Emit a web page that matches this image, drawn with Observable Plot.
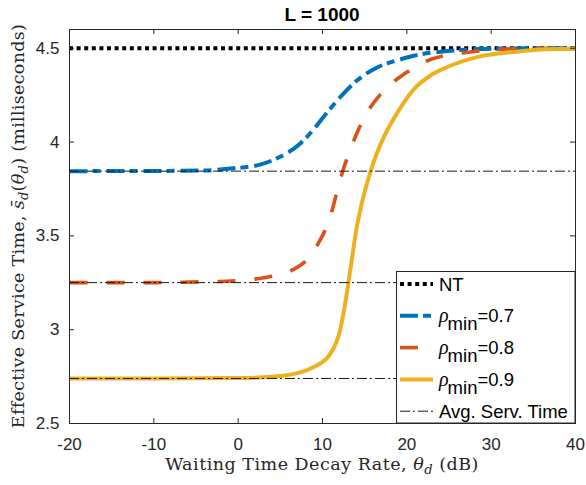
<!DOCTYPE html>
<html>
<head>
<meta charset="utf-8">
<script src="https://cdn.jsdelivr.net/npm/d3@7"></script>
<script src="https://cdn.jsdelivr.net/npm/@observablehq/plot@0.6"></script>
<style>
  html, body { margin: 0; padding: 0; background: #fff; }
</style>
</head>
<body>
<div id="chart"></div>
<script>
// ---------- data ----------
const titleText = "L = 1000";
const xTicks = [-20, -10, 0, 10, 20, 30, 40];
const yTicks = [2.5, 3, 3.5, 4, 4.5];
const xDomain = [-20, 40];
const yDomain = [2.5, 4.6];

const ntValue = 4.5;                       // NT
const avgServTime = [3.845, 3.251, 2.74];  // Avg. Serv. Time
const rhoMin = [0.7, 0.8, 0.9];

const theta07 = [-20, -10, -4.5, -0.6, 2.6, 4.9, 7.3, 8.9, 10.5, 12.1, 14.0, 16.6, 19.2, 20.8, 24.8, 29.9, 35, 40];
const s07     = [3.845, 3.846, 3.848, 3.86, 3.88, 3.92, 3.99, 4.065, 4.155, 4.24, 4.325, 4.40, 4.44, 4.46, 4.485, 4.497, 4.5, 4.5];

const theta08 = [-20, -10, -4.5, 0, 3.4, 6.5, 8.1, 9.5, 10.3, 11.1, 11.8, 12.5, 13.3, 14.1, 15.2, 16.8, 18.4, 19.6, 22.8, 27.5, 32.6, 40];
const s08     = [3.251, 3.251, 3.255, 3.262, 3.28, 3.32, 3.37, 3.46, 3.53, 3.63, 3.75, 3.86, 3.96, 4.05, 4.15, 4.25, 4.32, 4.36, 4.44, 4.48, 4.497, 4.5];

const theta09 = [-20, -10, 0, 5.3, 8.9, 10.9, 12.1, 12.8, 13.4, 14.0, 14.8, 15.6, 16.4, 17.2, 18.0, 19.0, 20.8, 22.8, 24.8, 28.7, 32.6, 36.6, 40];
const s09     = [2.74, 2.74, 2.742, 2.755, 2.80, 2.87, 3.0, 3.17, 3.35, 3.53, 3.70, 3.83, 3.935, 4.02, 4.09, 4.165, 4.28, 4.355, 4.40, 4.457, 4.48, 4.495, 4.497];

// ---------- styles ----------
const W = 586, H = 485;
const mL = 69, mR = 11, mT = 29, mB = 62;
const plotW = W - mL - mR, plotH = H - mT - mB;
const axisColor = "#262626";
const sansFont = "'Liberation Sans', Arial, Helvetica, sans-serif";
const serifFont = "'DejaVu Serif', serif";

const series = [
  {rho: rhoMin[0], theta: theta07, s: s07, color: "#0072BD", dash: "18,5,8,6", width: 4},
  {rho: rhoMin[1], theta: theta08, s: s08, color: "#D95319", dash: "18,19", width: 3.6},
  {rho: rhoMin[2], theta: theta09, s: s09, color: "#EDB120", dash: null, width: 4}
];
const ntStyle = {color: "black", dash: "4,3.6", width: 4};
const avgStyle = {color: "#1a1a1a", dash: "10,3,2,3", width: 1};

const lineMarks = series.map(sr => {
  const rows = sr.theta.map((t, i) => ({theta: t, s: sr.s[i]}));
  return Plot.line(rows, {
    x: "theta", y: "s", stroke: sr.color, strokeWidth: sr.width,
    strokeDasharray: sr.dash, strokeLinecap: "butt", curve: "monotone-x"
  });
});

const chart = Plot.plot({
  width: W, height: H,
  marginLeft: mL, marginRight: mR, marginTop: mT, marginBottom: mB,
  style: {fontFamily: sansFont, fontSize: "17px", color: axisColor, background: "white", overflow: "visible"},
  x: {domain: xDomain, label: null},
  y: {domain: yDomain, label: null},
  marks: [
    Plot.ruleY([ntValue], {stroke: ntStyle.color, strokeWidth: ntStyle.width, strokeDasharray: ntStyle.dash}),
    ...lineMarks,
    Plot.ruleY(avgServTime, {stroke: avgStyle.color, strokeWidth: avgStyle.width, strokeDasharray: avgStyle.dash}),
    // inward ticks on all four sides
    Plot.ruleX(xTicks, {stroke: axisColor, insetTop: plotH - 5}),
    Plot.ruleX(xTicks, {stroke: axisColor, insetBottom: plotH - 5}),
    Plot.ruleY(yTicks, {stroke: axisColor, insetRight: plotW - 5}),
    Plot.ruleY(yTicks, {stroke: axisColor, insetLeft: plotW - 5}),
    Plot.frame({stroke: axisColor, strokeWidth: 1}),
    Plot.axisX({ticks: xTicks, tickSize: 0, tickPadding: 14, tickFormat: d => String(d), label: null, fill: axisColor}),
    Plot.axisY({ticks: yTicks, tickSize: 0, tickPadding: 10, tickFormat: d => String(d), label: null, fill: axisColor})
  ]
});
document.getElementById("chart").appendChild(chart);

// ---------- title, axis labels, legend ----------
const svg = d3.select(chart);
const cx = mL + plotW / 2;
const cy = mT + plotH / 2;

svg.append("text")
  .attr("x", cx).attr("y", 21)
  .attr("text-anchor", "middle")
  .attr("font-family", sansFont).attr("font-weight", "bold").attr("font-size", 19)
  .attr("fill", "#000")
  .text(titleText);

// x label
const xl = svg.append("text")
  .attr("x", cx).attr("y", 470)
  .attr("text-anchor", "middle")
  .attr("font-family", serifFont).attr("font-size", 17.5).attr("letter-spacing", 0.5).attr("fill", axisColor);
xl.append("tspan").text("Waiting Time Decay Rate, ");
xl.append("tspan").attr("font-style", "italic").text("θ");
xl.append("tspan").attr("font-style", "italic").attr("font-size", 13).attr("dy", 4).text("d");
xl.append("tspan").attr("dy", -4).text(" (dB)");

// y label
const yl = svg.append("text")
  .attr("transform", `translate(24,${cy}) rotate(-90)`)
  .attr("text-anchor", "middle")
  .attr("font-family", serifFont).attr("font-size", 17.5).attr("letter-spacing", 0.3).attr("fill", axisColor);
yl.append("tspan").text("Effective Service Time, ");
yl.append("tspan").attr("font-style", "italic").text("s\u0304");
yl.append("tspan").attr("font-style", "italic").attr("font-size", 13).attr("dy", 4).text("d");
yl.append("tspan").attr("dy", -4).text("(");
yl.append("tspan").attr("font-style", "italic").text("θ");
yl.append("tspan").attr("font-style", "italic").attr("font-size", 13).attr("dy", 4).text("d");
yl.append("tspan").attr("dy", -4).text(") (milliseconds)");

// legend
const legendEntries = [
  {kind: "text", label: "NT", color: ntStyle.color, dash: ntStyle.dash, width: ntStyle.width},
  ...series.map(sr => ({kind: "rho", label: "=" + sr.rho, color: sr.color, dash: sr.dash, width: sr.width})),
  {kind: "text", label: "Avg. Serv. Time", color: avgStyle.color, dash: avgStyle.dash, width: avgStyle.width}
];
const lgX = 396.5, lgY = 271.5, lgW = W - mR - 396.5, lgH = (H - mB) - 271.5;
const lg = svg.append("g").attr("text-anchor", "start");
lg.append("rect")
  .attr("x", lgX).attr("y", lgY).attr("width", lgW).attr("height", lgH)
  .attr("fill", "white").attr("stroke", axisColor).attr("stroke-width", 1);
legendEntries.forEach((e, i) => {
  const y = 284 + i * 31.8;
  lg.append("line")
    .attr("x1", 400).attr("x2", 433).attr("y1", y).attr("y2", y)
    .attr("stroke", e.color).attr("stroke-width", e.width)
    .attr("stroke-dasharray", e.dash).attr("stroke-linecap", "butt");
  const t = lg.append("text")
    .attr("x", 439).attr("y", y + 6.5)
    .attr("text-anchor", "start")
    .attr("font-family", sansFont).attr("font-size", 18.5).attr("fill", "#000");
  if (e.kind === "rho") {
    t.append("tspan").attr("font-style", "italic").attr("font-family", "'Liberation Serif', serif").attr("font-size", 20).text("ρ");
    t.append("tspan").attr("dy", 8).attr("dx", -1).text("min");
    t.append("tspan").attr("dy", -8).text(e.label);
  } else {
    t.text(e.label);
  }
});
</script>
</body>
</html>
